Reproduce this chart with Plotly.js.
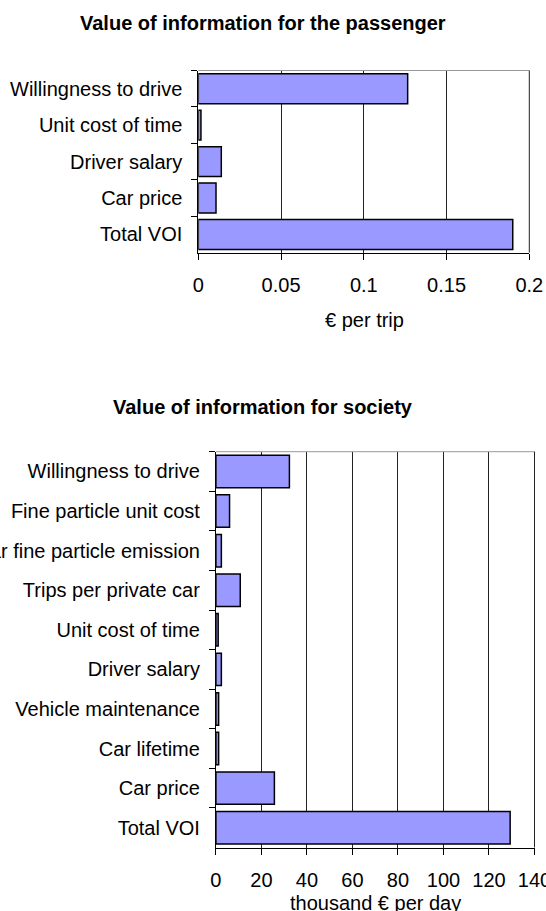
<!DOCTYPE html>
<html>
<head>
<meta charset="utf-8">
<script src="https://cdn.plot.ly/plotly-3.0.1.min.js"></script>
<style>html,body{margin:0;padding:0;background:#fff;overflow:hidden}#chart{width:546px;height:911px}</style>
</head>
<body>
<div id="chart"></div>
<script>
// Data: top-to-bottom order as shown
const passengerCategories = ["Willingness to drive", "Unit cost of time", "Driver salary", "Car price", "Total VOI"];
const passengerValues = [0.1265, 0.0016, 0.0139, 0.0107, 0.190];
const passengerTicks = [0, 0.05, 0.1, 0.15, 0.2];
const passengerTickLabels = ["0", "0.05", "0.1", "0.15", "0.2"];

const societyCategories = ["Willingness to drive", "Fine particle unit cost", "Car fine particle emission",
  "Trips per private car", "Unit cost of time", "Driver salary", "Vehicle maintenance",
  "Car lifetime", "Car price", "Total VOI"];
const societyValues = [32.3, 6.0, 2.4, 10.7, 1.0, 2.4, 1.2, 1.2, 25.7, 129.3];
const societyTicks = [0, 20, 40, 60, 80, 100, 120, 140];

const W = 546, H = 911;
const px = v => v / W;
const py = v => 1 - v / H;

const barFill = "#9999FF";
const font = {family: "Liberation Sans, Arial, sans-serif", size: 20, color: "#000"};
const titleFont = {family: "Liberation Sans, Arial, sans-serif", size: 20, color: "#000"};

const traces = [
  {type: "bar", orientation: "h", x: passengerValues, y: passengerCategories, xaxis: "x", yaxis: "y",
   marker: {color: barFill, line: {color: "#000", width: 1.5}}, hoverinfo: "x+y"},
  {type: "bar", orientation: "h", x: societyValues, y: societyCategories, xaxis: "x2", yaxis: "y2",
   marker: {color: barFill, line: {color: "#000", width: 1.5}}, hoverinfo: "x+y"}
];

const xCommon = {
  showgrid: true, gridcolor: "#222", gridwidth: 1, zeroline: false,
  showline: true, linecolor: "#000", linewidth: 1,
  ticks: "outside", ticklen: 6, tickcolor: "#000", tickwidth: 1,
  tickfont: font, ticklabelstandoff: 8, ticklabeloverflow: "allow", fixedrange: true
};
const yCommon = {
  type: "category", autorange: "reversed", showgrid: false, zeroline: false,
  showline: true, linecolor: "#000", linewidth: 1,
  ticks: "outside", ticklen: 6, tickcolor: "#000", tickwidth: 1, tickson: "boundaries",
  tickfont: font, ticklabelstandoff: 11, ticklabeloverflow: "allow", automargin: false, fixedrange: true
};

const d1x = [px(198.3), px(529.3)], d1y = [py(252.7), py(70.5)];
const d2x = [px(215.9), px(534.5)], d2y = [py(847.5), py(451.7)];

const layout = {
  width: W, height: H, margin: {l: 0, r: 0, t: 0, b: 0},
  paper_bgcolor: "#fff", plot_bgcolor: "#fff", showlegend: false,
  font: font, bargap: 0.18,
  xaxis: Object.assign({}, xCommon, {domain: d1x, anchor: "y", range: [0, 0.2],
    tickvals: passengerTicks, ticktext: passengerTickLabels}),
  yaxis: Object.assign({}, yCommon, {domain: d1y, anchor: "x"}),
  xaxis2: Object.assign({}, xCommon, {domain: d2x, anchor: "y2", range: [0, 140],
    tickvals: societyTicks}),
  yaxis2: Object.assign({}, yCommon, {domain: d2y, anchor: "x2"}),
  annotations: [
    {text: "<b>Value of information for the passenger</b>", xref: "paper", yref: "paper",
     x: px(263), y: py(23), xanchor: "center", yanchor: "middle", showarrow: false, font: titleFont},
    {text: "€ per trip", xref: "paper", yref: "paper",
     x: px(364), y: py(320), xanchor: "center", yanchor: "middle", showarrow: false, font: font},
    {text: "<b>Value of information for society</b>", xref: "paper", yref: "paper",
     x: px(263), y: py(407), xanchor: "center", yanchor: "middle", showarrow: false, font: titleFont},
    {text: "thousand € per day", xref: "paper", yref: "paper",
     x: px(375), y: py(903), xanchor: "center", yanchor: "middle", showarrow: false, font: font}
  ],
  shapes: [
    {type: "line", xref: "paper", yref: "paper", x0: d1x[0], x1: d1x[1], y0: d1y[1], y1: d1y[1],
     line: {color: "#999", width: 1}},
    {type: "line", xref: "paper", yref: "paper", x0: d2x[0], x1: d2x[1], y0: d2y[1], y1: d2y[1],
     line: {color: "#999", width: 1}},
    {type: "line", xref: "paper", yref: "paper", x0: d1x[1], x1: d1x[1], y0: d1y[0], y1: d1y[1],
     line: {color: "#222", width: 1}},
    {type: "line", xref: "paper", yref: "paper", x0: d2x[1], x1: d2x[1], y0: d2y[0], y1: d2y[1],
     line: {color: "#222", width: 1}}
  ]
};

Plotly.newPlot("chart", traces, layout, {staticPlot: true, displayModeBar: false});
</script>
</body>
</html>
